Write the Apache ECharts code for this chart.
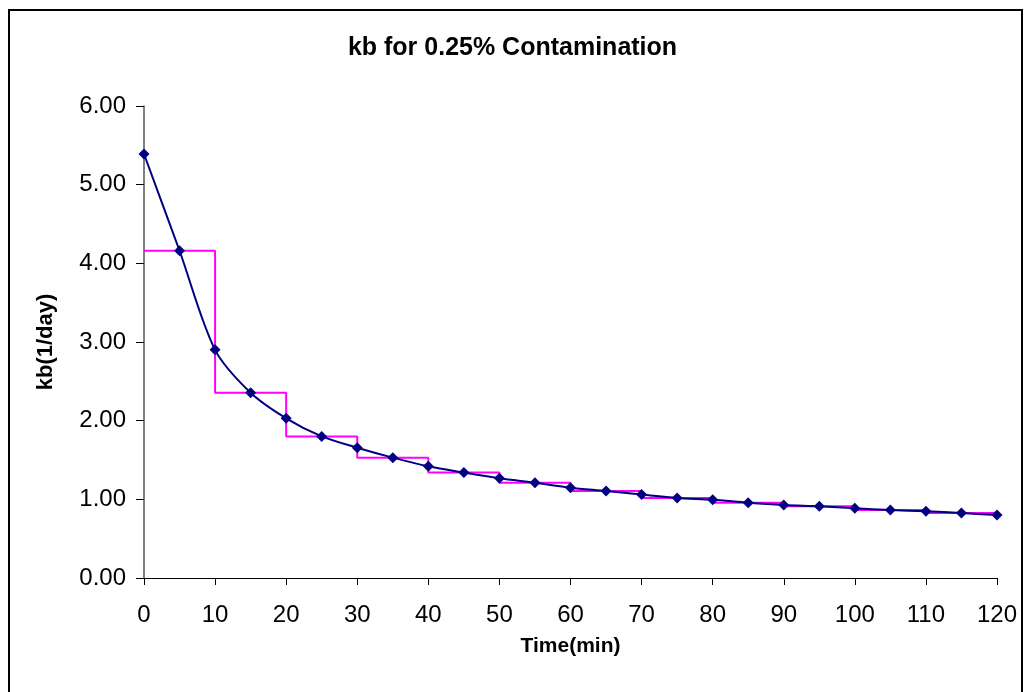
<!DOCTYPE html>
<html>
<head>
<meta charset="utf-8">
<title>kb for 0.25% Contamination</title>
<script src="https://cdn.jsdelivr.net/npm/echarts@6/dist/echarts.min.js"></script>
<style>
  html, body { margin: 0; padding: 0; background: #ffffff; }
  #chart { width: 1025px; height: 692px; }
</style>
</head>
<body>
<div id="chart"></div>
<script>
// Sampling times (min) and the bulk decay coefficient kb (1/day) at each
const timeMin = [0, 5, 10, 15, 20, 25, 30, 35, 40, 45, 50, 55, 60,
                 65, 70, 75, 80, 85, 90, 95, 100, 105, 110, 115, 120];
const kbValues = [5.39, 4.16, 2.90, 2.355, 2.03, 1.80, 1.656, 1.53, 1.42, 1.34, 1.267, 1.21, 1.148,
                  1.106, 1.06, 1.017, 0.995, 0.957, 0.928, 0.911, 0.886, 0.864, 0.848, 0.826, 0.80];

// Piecewise-constant kb over 10-minute intervals
const stepStart = [0, 10, 20, 30, 40, 50, 60, 70, 80, 90, 100, 110];
const stepLevel = [4.16, 2.355, 1.80, 1.53, 1.34, 1.21, 1.106, 1.017, 0.957, 0.911, 0.864, 0.826];
const stepEnd = 120;

const yTicks = ['0.00', '1.00', '2.00', '3.00', '4.00', '5.00', '6.00'];

const curve = timeMin.map((t, i) => [t, kbValues[i]]);
const steps = stepStart.map((t, i) => [t, stepLevel[i]]);
steps.push([stepEnd, stepLevel[stepLevel.length - 1]]);

const chart = echarts.init(document.getElementById('chart'), null, { renderer: 'canvas' });
const font = 'Arial, "Liberation Sans", Helvetica, sans-serif';

chart.setOption({
  animation: false,
  backgroundColor: '#ffffff',
  title: {
    text: 'kb for 0.25% Contamination',
    left: 'center',
    top: 31,
    textStyle: { fontFamily: font, fontSize: 25, fontWeight: 'bold', color: '#000' }
  },
  graphic: [{
    type: 'rect',
    shape: { x: 9, y: 10, width: 1013, height: 700 },
    style: { fill: 'none', stroke: '#000', lineWidth: 2 },
    silent: true
  }],
  grid: { left: 144, right: 28, top: 106, bottom: 114 },
  xAxis: {
    type: 'value',
    min: 0, max: 120, interval: 10,
    name: 'Time(min)',
    nameLocation: 'middle',
    nameGap: 58,
    nameTextStyle: { fontFamily: font, fontSize: 21, fontWeight: 'bold', color: '#000' },
    axisLine: { lineStyle: { color: '#000', width: 1 } },
    axisTick: { show: true, inside: false, length: 7, lineStyle: { color: '#000' } },
    axisLabel: { fontFamily: font, fontSize: 24, color: '#000', margin: 25 },
    splitLine: { show: false }
  },
  yAxis: {
    type: 'value',
    min: 0, max: 6, interval: 1,
    name: 'kb(1/day)',
    nameLocation: 'middle',
    nameGap: 87,
    nameRotate: 90,
    nameTextStyle: { fontFamily: font, fontSize: 22, fontWeight: 'bold', color: '#000' },
    axisLine: { show: true, lineStyle: { color: '#555', width: 1.5 } },
    axisTick: { show: true, inside: false, length: 8, lineStyle: { color: '#000' } },
    axisLabel: {
      fontFamily: font, fontSize: 24, color: '#000', margin: 18,
      formatter: v => yTicks[Math.round(v)]
    },
    splitLine: { show: false }
  },
  series: [
    {
      name: 'interval kb',
      type: 'line',
      data: steps,
      step: 'end',
      symbol: 'none',
      lineStyle: { color: '#ff00ff', width: 2 },
      z: 2
    },
    {
      name: 'kb',
      type: 'line',
      data: curve,
      smooth: 0.3,
      symbol: 'diamond',
      symbolSize: 11,
      itemStyle: { color: '#000080' },
      lineStyle: { color: '#000080', width: 2 },
      z: 3
    }
  ]
});
</script>
</body>
</html>
